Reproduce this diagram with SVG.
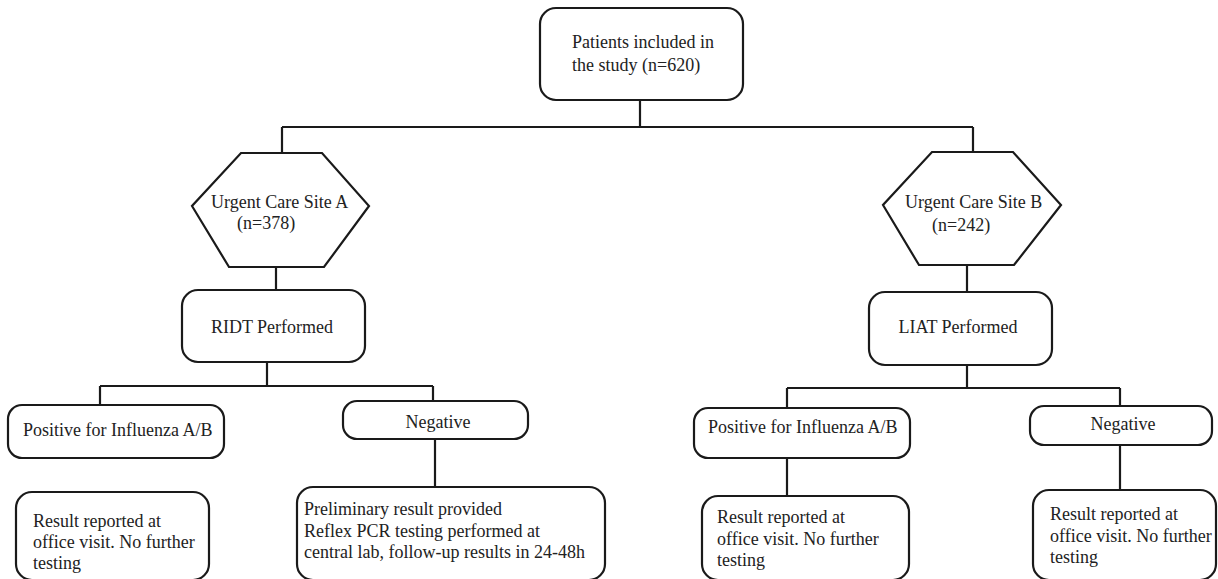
<svg xmlns="http://www.w3.org/2000/svg" width="1218" height="579" viewBox="0 0 1218 579" font-family="'Liberation Serif', 'Times New Roman', 'DejaVu Serif', serif">
<style>
.b{fill:#fff;stroke:#1a1a1a;stroke-width:2.2}
.c{fill:none;stroke:#1a1a1a;stroke-width:2.2}
.t{font-family:"Liberation Serif","Times New Roman","DejaVu Serif",serif;font-size:18px;fill:#222}
.m{text-anchor:middle}
</style>
<rect width="1218" height="579" fill="#fff"/>
<g id="connectors">
<path class="c" d="M640,100V127M282,127H973M282,127V153M973,127V152"/>
<path class="c" d="M276,267V290M267,362V386M100,386H433M100,386V405M433,386V401M435,439V487"/>
<path class="c" d="M967,265V292M967,365V388M787,388H1120M787,388V408M1120,388V406M787,458V496M1120,445V490"/>
</g>
<g id="patients">
<rect class="b" x="540" y="8" width="203" height="92" rx="16"/>
<text class="t" x="572" y="48">Patients included in</text>
<text class="t" x="572" y="71">the study (n=620)</text>
</g>
<g id="siteA">
<polygon class="b" points="241,153 322,153 369,206 324,267 229,267 192,206"/>
<text class="t" x="211" y="208">Urgent Care Site A</text>
<text class="t" x="237" y="229">(n=378)</text>
</g>
<g id="siteB">
<polygon class="b" points="932,152 1013,152 1061,205 1014,265 919,265 883,205"/>
<text class="t" x="905" y="208">Urgent Care Site B</text>
<text class="t" x="932" y="231">(n=242)</text>
</g>
<g id="ridt">
<rect class="b" x="182" y="290" width="183" height="72" rx="16"/>
<text class="t m" x="272" y="333">RIDT Performed</text>
</g>
<g id="liat">
<rect class="b" x="869" y="292" width="183" height="73" rx="16"/>
<text class="t m" x="958" y="333">LIAT Performed</text>
</g>
<g id="posA">
<rect class="b" x="8" y="405" width="216" height="53" rx="14"/>
<text class="t" x="23" y="436">Positive for Influenza A/B</text>
</g>
<g id="negA">
<rect class="b" x="343" y="401" width="185" height="38" rx="14"/>
<text class="t m" x="438" y="428">Negative</text>
</g>
<g id="resA">
<rect class="b" x="16" y="492" width="193" height="88" rx="16"/>
<text class="t" x="33" y="527">Result reported at</text>
<text class="t" x="33" y="548">office visit. No further</text>
<text class="t" x="33" y="569">testing</text>
</g>
<g id="prelim">
<rect class="b" x="297" y="487" width="308" height="93" rx="16"/>
<text class="t" x="304" y="515">Preliminary result provided</text>
<text class="t" x="304" y="537">Reflex PCR testing performed at</text>
<text class="t" x="304" y="558">central lab, follow-up results in 24-48h</text>
</g>
<g id="posB">
<rect class="b" x="694" y="408" width="216" height="50" rx="14"/>
<text class="t" x="708" y="433">Positive for Influenza A/B</text>
</g>
<g id="negB">
<rect class="b" x="1030" y="406" width="182" height="39" rx="14"/>
<text class="t m" x="1123" y="430">Negative</text>
</g>
<g id="resB1">
<rect class="b" x="702" y="496" width="207" height="84" rx="16"/>
<text class="t" x="717" y="523">Result reported at</text>
<text class="t" x="717" y="545">office visit. No further</text>
<text class="t" x="717" y="566">testing</text>
</g>
<g id="resB2">
<rect class="b" x="1033" y="490" width="183" height="90" rx="16"/>
<text class="t" x="1050" y="520">Result reported at</text>
<text class="t" x="1050" y="542">office visit. No further</text>
<text class="t" x="1050" y="563">testing</text>
</g>
</svg>
